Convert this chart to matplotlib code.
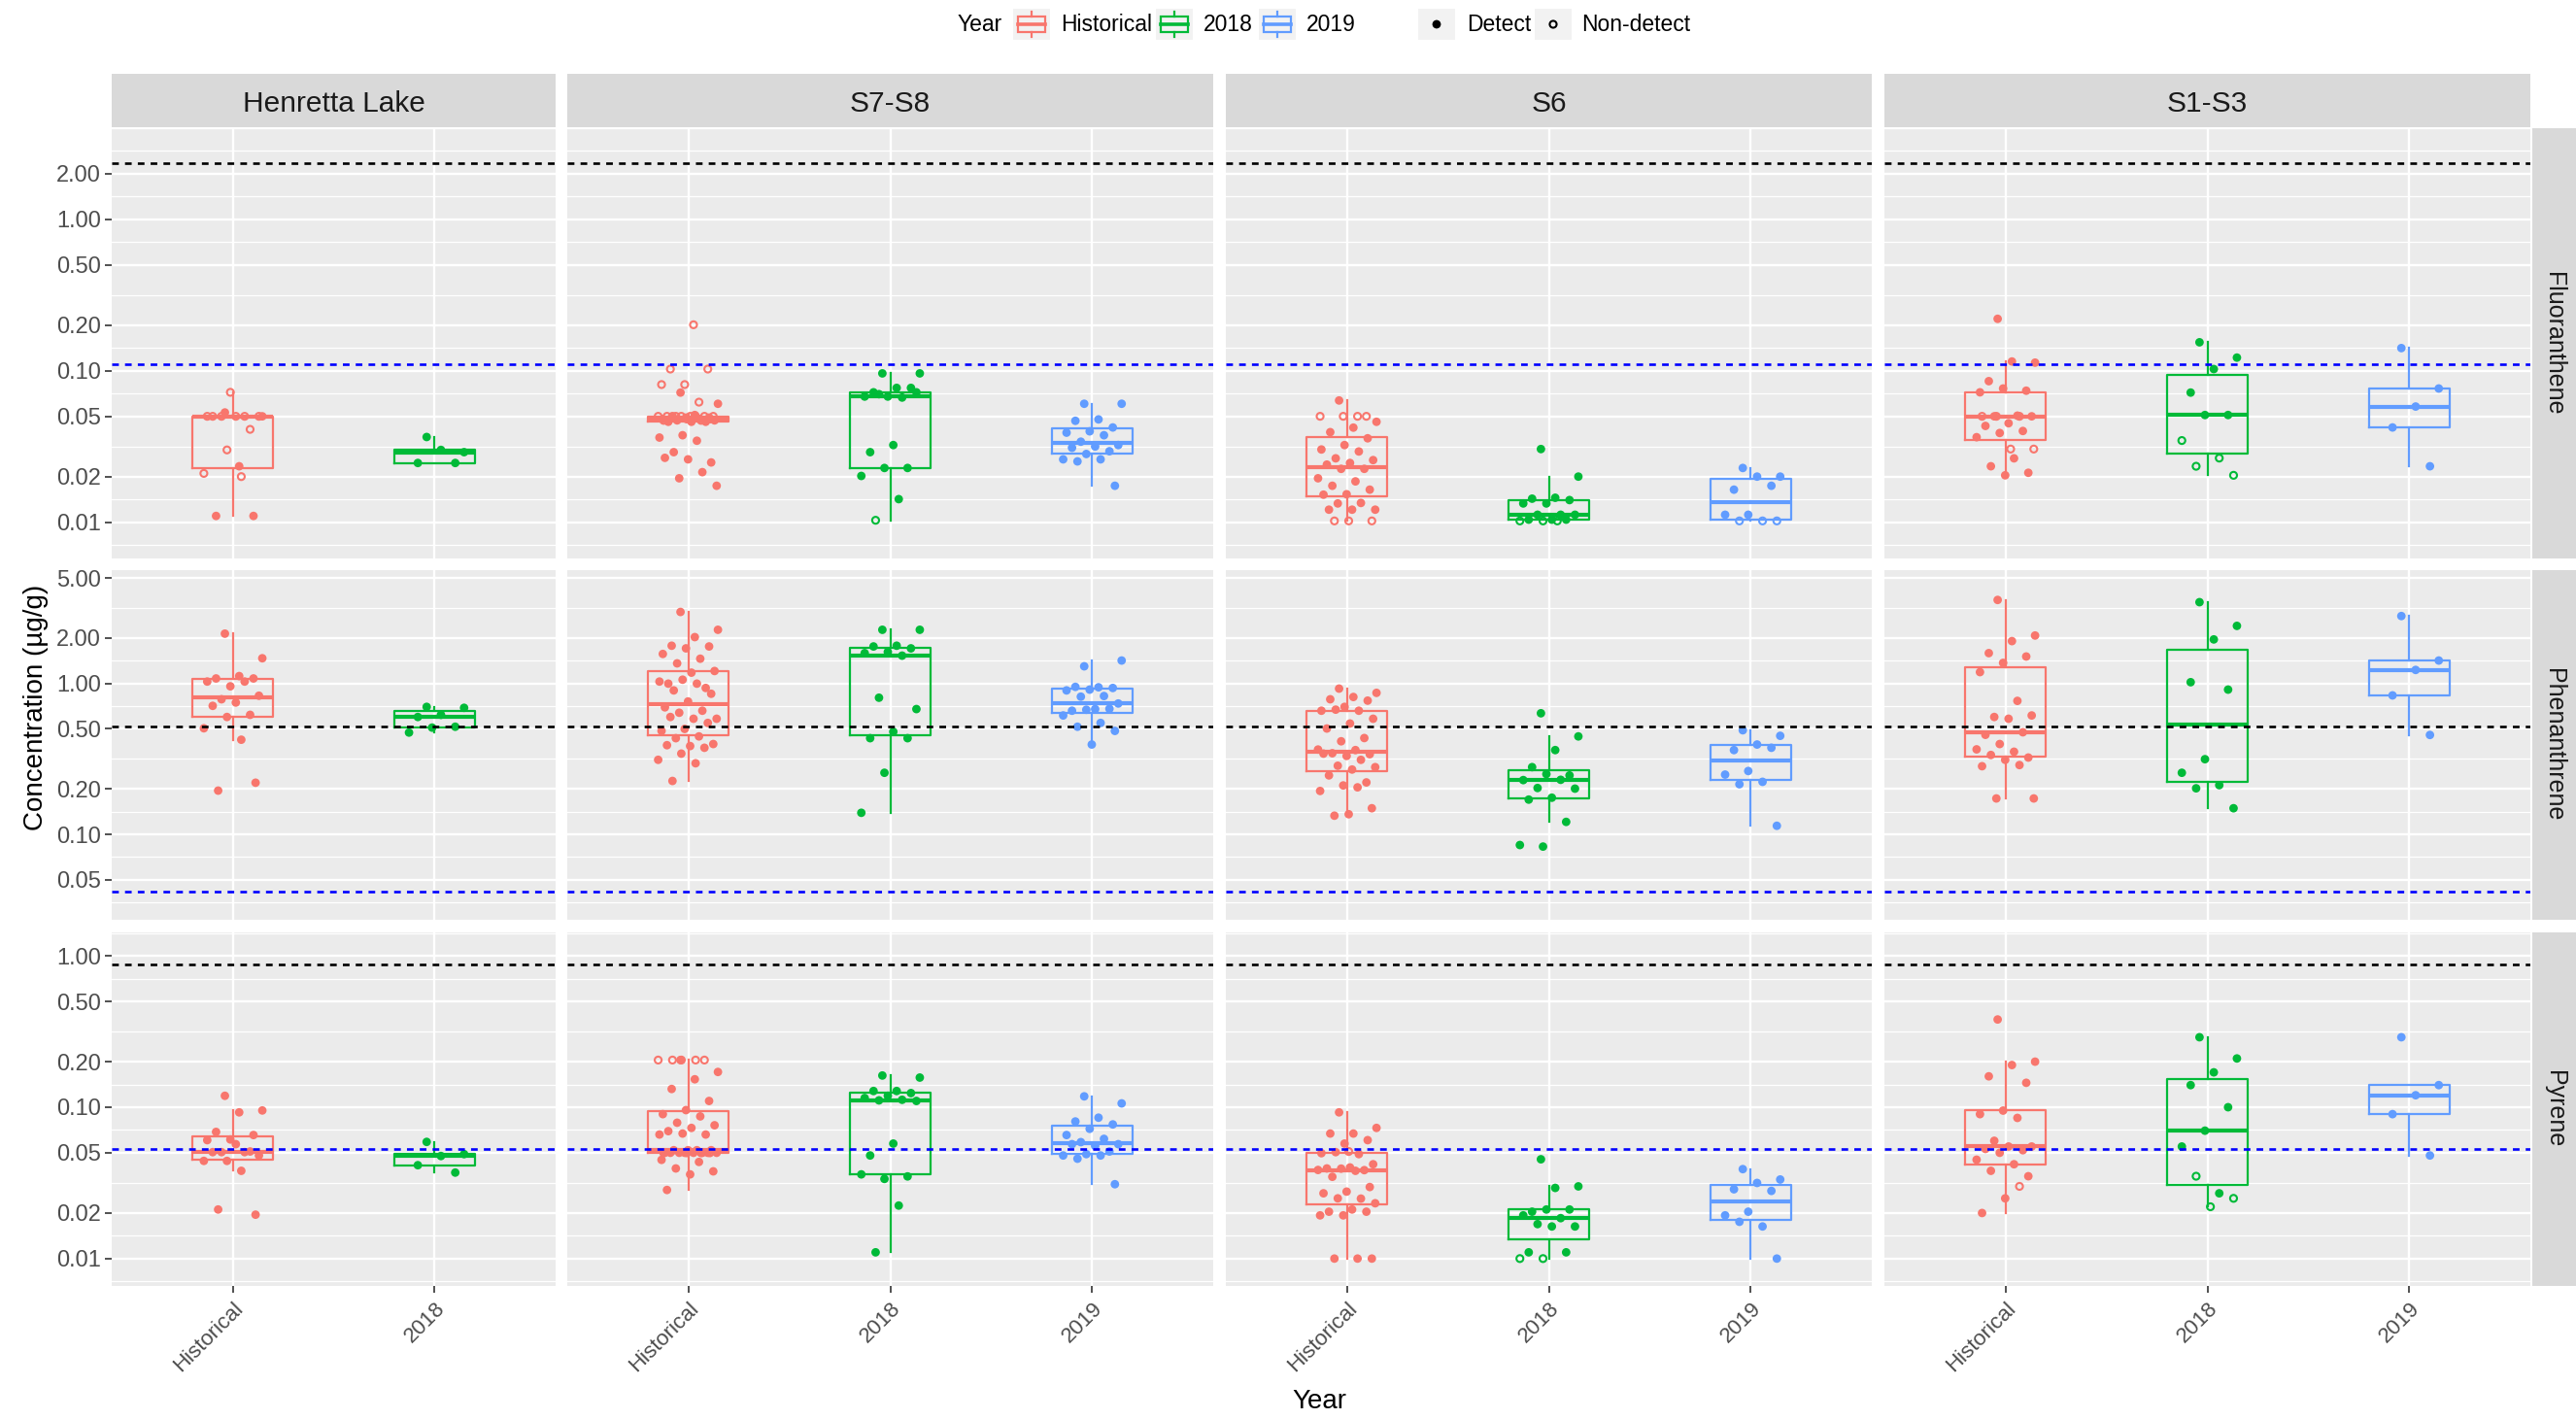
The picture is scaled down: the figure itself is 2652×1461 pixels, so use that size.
import numpy as np
import matplotlib
matplotlib.use("Agg")
import matplotlib.pyplot as plt
from matplotlib.cbook import boxplot_stats
from matplotlib.patches import Rectangle

plt.rcParams['font.family'] = ['Liberation Sans', 'DejaVu Sans']

# concentrations in ug/g, detected values and non-detects (*_nd) kept apart
# ---------------- Fluoranthene ----------------
fl_hl_hist = [0.053, 0.05, 0.0234, 0.011, 0.011]
fl_hl_hist_nd = [0.072, 0.05, 0.05, 0.05, 0.05, 0.05, 0.05, 0.041, 0.030, 0.021, 0.020]
fl_hl_18 = [0.0365, 0.029, 0.030, 0.0246, 0.0246]
fl_hl_18_nd = []

fl_s78_hist = [0.0717, 0.0605, 0.051, 0.049, 0.049, 0.049, 0.048, 0.048, 0.047, 0.047,
               0.046, 0.046, 0.046, 0.0375, 0.0362, 0.0345, 0.029, 0.0248, 0.026, 0.0266,
               0.0214, 0.0195, 0.0174]
fl_s78_hist_nd = [0.201, 0.1025, 0.1025, 0.081, 0.081, 0.062, 0.05, 0.05, 0.05, 0.05, 0.05,
                  0.05, 0.05, 0.05, 0.05, 0.048, 0.048, 0.047, 0.047]
fl_s78_18 = [0.096, 0.096, 0.077, 0.072, 0.077, 0.0675, 0.0675, 0.0665, 0.07, 0.072,
             0.0323, 0.029, 0.0228, 0.0228, 0.0202, 0.0142]
fl_s78_18_nd = [0.0103]
fl_s78_19 = [0.0605, 0.0605, 0.0477, 0.0467, 0.0422, 0.0398, 0.039, 0.0375, 0.034, 0.0323,
             0.0316, 0.031, 0.0294, 0.0282, 0.026, 0.026, 0.0252, 0.0174]
fl_s78_19_nd = []

fl_s6_hist = [0.0636, 0.046, 0.0421, 0.0393, 0.0358, 0.0323, 0.0302, 0.0293, 0.0264, 0.0257,
              0.0246, 0.024, 0.0225, 0.0225, 0.0195, 0.0186, 0.0174, 0.0164, 0.0153, 0.0152,
              0.0134, 0.0133, 0.0121, 0.0121, 0.0121]
fl_s6_hist_nd = [0.05, 0.05, 0.05, 0.05, 0.0102, 0.0102, 0.0102]
fl_s6_18 = [0.0304, 0.02, 0.0145, 0.0143, 0.014, 0.0133, 0.0133, 0.0112, 0.0112, 0.0112,
            0.0104, 0.0104, 0.0104]
fl_s6_18_nd = [0.0102, 0.0102, 0.0102]
fl_s6_19 = [0.0228, 0.02, 0.02, 0.0164, 0.0174, 0.0112, 0.0112]
fl_s6_19_nd = [0.0102, 0.0102, 0.0102]

fl_s13_hist = [0.22, 0.113, 0.115, 0.0853, 0.0738, 0.0763, 0.072, 0.0505, 0.05, 0.05, 0.045,
               0.0432, 0.04, 0.0388, 0.0364, 0.0264, 0.0234, 0.0212, 0.0204]
fl_s13_hist_nd = [0.05, 0.05, 0.05, 0.0304, 0.0304]
fl_s13_18 = [0.154, 0.122, 0.1025, 0.0717, 0.051, 0.051]
fl_s13_18_nd = [0.0346, 0.0265, 0.0234, 0.0204]
fl_s13_19 = [0.141, 0.0763, 0.058, 0.0422, 0.0234]
fl_s13_19_nd = []

# ---------------- Phenanthrene ----------------
ph_hl_hist = [2.14, 1.47, 1.12, 1.08, 1.08, 0.958, 1.03, 1.03, 0.786, 0.83, 0.748, 0.711,
              0.62, 0.6, 0.505, 0.424, 0.195, 0.22]
ph_hl_hist_nd = []
ph_hl_18 = [0.70, 0.69, 0.62, 0.6, 0.517, 0.51, 0.473]
ph_hl_18_nd = []

ph_s78_hist = [2.98, 2.27, 2.03, 1.78, 1.76, 1.71, 1.57, 1.46, 1.36, 1.21, 1.18, 0.998,
               0.934, 1.06, 1.03, 0.998, 0.9, 0.855, 0.76, 0.695, 0.66, 0.64, 0.584, 0.584,
               0.6, 0.548, 0.5, 0.485, 0.446, 0.434, 0.397, 0.385, 0.39, 0.375, 0.343,
               0.312, 0.296, 0.226]
ph_s78_hist_nd = []
ph_s78_18 = [2.27, 2.27, 1.78, 1.76, 1.71, 1.62, 1.59, 1.53, 0.805, 0.677, 0.479, 0.434,
             0.434, 0.256, 0.139]
ph_s78_18_nd = []
ph_s78_19 = [1.3, 1.42, 0.944, 0.95, 0.934, 0.911, 0.9, 0.826, 0.818, 0.737, 0.677, 0.66,
             0.68, 0.67, 0.614, 0.548, 0.517, 0.485, 0.394]
ph_s78_19_nd = []

ph_s6_hist = [0.925, 0.867, 0.814, 0.786, 0.77, 0.7, 0.66, 0.66, 0.671, 0.584, 0.543, 0.503,
              0.435, 0.414, 0.365, 0.362, 0.345, 0.34, 0.331, 0.343, 0.312, 0.285, 0.279,
              0.269, 0.246, 0.221, 0.211, 0.194, 0.205, 0.133, 0.149, 0.136]
ph_s6_hist_nd = []
ph_s6_18 = [0.635, 0.446, 0.362, 0.279, 0.246, 0.251, 0.229, 0.23, 0.203, 0.201, 0.175,
            0.17, 0.121, 0.083, 0.085]
ph_s6_18_nd = []
ph_s6_19 = [0.49, 0.45, 0.394, 0.362, 0.375, 0.263, 0.249, 0.223, 0.215, 0.114]
ph_s6_19_nd = []

ph_s13_hist = [3.58, 2.08, 1.91, 1.59, 1.51, 1.37, 1.19, 0.767, 0.6, 0.614, 0.584, 0.457,
               0.475, 0.397, 0.366, 0.353, 0.336, 0.323, 0.312, 0.283, 0.288, 0.173, 0.173]
ph_s13_hist_nd = []
ph_s13_18 = [3.46, 2.41, 1.96, 1.02, 0.911, 0.315, 0.256, 0.212, 0.202, 0.149]
ph_s13_18_nd = []
ph_s13_19 = [2.80, 1.42, 1.23, 0.834, 0.456]
ph_s13_19_nd = []

# ---------------- Pyrene ----------------
py_hl_hist = [0.119, 0.0952, 0.0925, 0.0687, 0.0655, 0.0612, 0.0606, 0.0505, 0.0505, 0.048,
              0.057, 0.0505, 0.051, 0.0442, 0.0442, 0.038, 0.0211, 0.0195]
py_hl_hist_nd = []
py_hl_18 = [0.059, 0.049, 0.0476, 0.0414, 0.037]
py_hl_18_nd = []

py_s78_hist = [0.205, 0.171, 0.153, 0.132, 0.110, 0.0957, 0.090, 0.087, 0.079, 0.076, 0.073,
               0.0695, 0.066, 0.067, 0.066, 0.052, 0.052, 0.052, 0.052, 0.05, 0.05, 0.05,
               0.05, 0.05, 0.05, 0.05, 0.05, 0.0449, 0.0435, 0.0394, 0.0377, 0.036, 0.0284]
py_s78_hist_nd = [0.205, 0.205, 0.205, 0.205, 0.205, 0.05, 0.05, 0.05, 0.05]
py_s78_18 = [0.162, 0.157, 0.128, 0.128, 0.124, 0.119, 0.115, 0.112, 0.111, 0.110, 0.0575,
             0.048, 0.0349, 0.0336, 0.036, 0.0224, 0.011]
py_s78_18_nd = []
py_s78_19 = [0.118, 0.106, 0.0853, 0.0805, 0.077, 0.072, 0.0655, 0.0618, 0.0588, 0.057,
             0.0555, 0.057, 0.051, 0.049, 0.048, 0.048, 0.0457, 0.031]
py_s78_19_nd = []

py_s6_hist = [0.0925, 0.073, 0.067, 0.067, 0.0606, 0.0575, 0.0497, 0.049, 0.0505, 0.042,
              0.04, 0.0394, 0.0384, 0.0393, 0.0385, 0.038, 0.0347, 0.0297, 0.0277, 0.027,
              0.0249, 0.025, 0.0232, 0.0211, 0.0204, 0.0204, 0.0193, 0.0193, 0.01, 0.01, 0.01]
py_s6_hist_nd = [0.051]
py_s6_18 = [0.0453, 0.03, 0.0293, 0.0204, 0.0211, 0.0211, 0.0193, 0.0185, 0.0169, 0.0163,
            0.0163, 0.011, 0.011]
py_s6_18_nd = [0.01, 0.01]
py_s6_19 = [0.039, 0.0333, 0.0316, 0.0287, 0.028, 0.0204, 0.0193, 0.0163, 0.0175, 0.01]
py_s6_19_nd = []

py_s13_hist = [0.38, 0.20, 0.19, 0.16, 0.145, 0.095, 0.09, 0.085, 0.06, 0.055, 0.055, 0.053,
               0.052, 0.05, 0.045, 0.042, 0.038, 0.035, 0.025, 0.02]
py_s13_hist_nd = [0.03]
py_s13_18 = [0.29, 0.21, 0.17, 0.14, 0.10, 0.07, 0.055, 0.027]
py_s13_18_nd = [0.035, 0.025, 0.022]
py_s13_19 = [0.29, 0.14, 0.12, 0.09, 0.048]
py_s13_19_nd = []

compounds = ['Fluoranthene', 'Phenanthrene', 'Pyrene']
sites = ['Henretta Lake', 'S7-S8', 'S6', 'S1-S3']
site_years = [['Historical', '2018'], ['Historical', '2018', '2019'],
              ['Historical', '2018', '2019'], ['Historical', '2018', '2019']]
# sediment guidelines: PEL (black) and ISQG (blue)
pel = [2.355, 0.515, 0.875]
isqg = [0.111, 0.0419, 0.053]
y_ticks = [[0.01, 0.02, 0.05, 0.1, 0.2, 0.5, 1, 2],
           [0.05, 0.1, 0.2, 0.5, 1, 2, 5],
           [0.01, 0.02, 0.05, 0.1, 0.2, 0.5, 1]]

samples = {
    ('Fluoranthene', 'Henretta Lake'): [(fl_hl_hist, fl_hl_hist_nd), (fl_hl_18, fl_hl_18_nd)],
    ('Fluoranthene', 'S7-S8'): [(fl_s78_hist, fl_s78_hist_nd), (fl_s78_18, fl_s78_18_nd), (fl_s78_19, fl_s78_19_nd)],
    ('Fluoranthene', 'S6'): [(fl_s6_hist, fl_s6_hist_nd), (fl_s6_18, fl_s6_18_nd), (fl_s6_19, fl_s6_19_nd)],
    ('Fluoranthene', 'S1-S3'): [(fl_s13_hist, fl_s13_hist_nd), (fl_s13_18, fl_s13_18_nd), (fl_s13_19, fl_s13_19_nd)],
    ('Phenanthrene', 'Henretta Lake'): [(ph_hl_hist, ph_hl_hist_nd), (ph_hl_18, ph_hl_18_nd)],
    ('Phenanthrene', 'S7-S8'): [(ph_s78_hist, ph_s78_hist_nd), (ph_s78_18, ph_s78_18_nd), (ph_s78_19, ph_s78_19_nd)],
    ('Phenanthrene', 'S6'): [(ph_s6_hist, ph_s6_hist_nd), (ph_s6_18, ph_s6_18_nd), (ph_s6_19, ph_s6_19_nd)],
    ('Phenanthrene', 'S1-S3'): [(ph_s13_hist, ph_s13_hist_nd), (ph_s13_18, ph_s13_18_nd), (ph_s13_19, ph_s13_19_nd)],
    ('Pyrene', 'Henretta Lake'): [(py_hl_hist, py_hl_hist_nd), (py_hl_18, py_hl_18_nd)],
    ('Pyrene', 'S7-S8'): [(py_s78_hist, py_s78_hist_nd), (py_s78_18, py_s78_18_nd), (py_s78_19, py_s78_19_nd)],
    ('Pyrene', 'S6'): [(py_s6_hist, py_s6_hist_nd), (py_s6_18, py_s6_18_nd), (py_s6_19, py_s6_19_nd)],
    ('Pyrene', 'S1-S3'): [(py_s13_hist, py_s13_hist_nd), (py_s13_18, py_s13_18_nd), (py_s13_19, py_s13_19_nd)],
}

year_colors = {'Historical': '#F8766D', '2018': '#00BA38', '2019': '#619CFF'}

# ---- layout (pixels) ----
W, H = 2652, 1461
col_px = [(115, 572), (584, 1249), (1262, 1927), (1940, 2605)]
row_px = [(132, 575), (587, 947), (960, 1324)]
ylim_log = [(-2.2393, 0.6004), (-1.5661, 0.7515), (-2.1808, 0.1551)]
strip_top = (76, 131)
strip_right = (2607, 2652)
PANEL_BG = '#EBEBEB'
STRIP_BG = '#D9D9D9'


def px_axes(x0, x1, y0, y1, **kw):
    return fig.add_axes([x0 / W, 1 - y1 / H, (x1 - x0) / W, (y1 - y0) / H], **kw)


def minor_breaks(ticks):
    lt = np.log10(ticks)
    step = lt[1] - lt[0]
    ext = np.concatenate([[lt[0] - step], lt, [lt[-1] + step]])
    mids = (ext[:-1] + ext[1:]) / 2
    return 10 ** np.concatenate([mids, [ext[0], ext[-1]]])


def jitter(n, width=0.15):
    k = np.arange(n)
    return ((k * 0.618034 + 0.37) % 1 - 0.5) * 2 * width


fig = plt.figure(figsize=(W / 100, H / 100), dpi=100)

for r, comp in enumerate(compounds):
    lo, hi = 10 ** ylim_log[r][0], 10 ** ylim_log[r][1]
    for c, site in enumerate(sites):
        years = site_years[c]
        ax = px_axes(col_px[c][0], col_px[c][1], row_px[r][0], row_px[r][1])
        ax.set_facecolor(PANEL_BG)
        ax.set_yscale('log')
        ax.set_ylim(lo, hi)
        ax.set_xlim(0.4, len(years) + 0.6)
        for s in ax.spines.values():
            s.set_visible(False)

        for v in minor_breaks(y_ticks[r]):
            ax.axhline(v, color='white', lw=0.9, zorder=0.5)
        for v in y_ticks[r]:
            ax.axhline(v, color='white', lw=1.7, zorder=0.6)
        for i in range(len(years)):
            ax.axvline(i + 1, color='white', lw=1.7, zorder=0.6)

        for i, yr in enumerate(years):
            det, nd = samples[(comp, site)][i]
            col = year_colors[yr]
            allv = np.array(det + nd, dtype=float)
            st = boxplot_stats(np.log10(allv), whis=1.5)[0]
            stats = dict(med=10 ** st['med'], q1=10 ** st['q1'], q3=10 ** st['q3'],
                         whislo=10 ** st['whislo'], whishi=10 ** st['whishi'], fliers=[])
            ax.bxp([stats], positions=[i + 1], widths=0.4, showfliers=False,
                   showcaps=False, manage_ticks=False,
                   boxprops=dict(color=col, lw=1.6),
                   whiskerprops=dict(color=col, lw=1.6),
                   medianprops=dict(color=col, lw=3.0, solid_capstyle='butt'))

            xs = i + 1 + jitter(len(allv))
            nd_mask = np.arange(len(allv)) >= len(det)
            ax.scatter(xs[~nd_mask], allv[~nd_mask], s=40, color=col,
                       edgecolors='none', zorder=3)
            ax.scatter(xs[nd_mask], allv[nd_mask], s=26, facecolors='none',
                       edgecolors=col, linewidths=1.5, zorder=3)

        ax.axhline(pel[r], color='black', lw=1.9, ls=(0, (2.6, 2.4)), zorder=4)
        ax.axhline(isqg[r], color='#0000FF', lw=1.9, ls=(0, (2.6, 2.4)), zorder=4)

        ax.yaxis.set_minor_locator(matplotlib.ticker.NullLocator())
        ax.set_yticks(y_ticks[r])
        ax.set_xticks(range(1, len(years) + 1))
        if c == 0:
            ax.set_yticklabels(['%.2f' % t for t in y_ticks[r]])
            ax.tick_params(axis='y', length=5, width=1.2, color='#333333',
                           labelsize=17, labelcolor='#4D4D4D', pad=3)
        else:
            ax.tick_params(axis='y', left=False, labelleft=False)
        if r == len(compounds) - 1:
            ax.set_xticklabels(years, rotation=45, ha='right', va='top',
                               rotation_mode='anchor')
            ax.tick_params(axis='x', length=5, width=1.2, color='#333333',
                           labelsize=16, labelcolor='#4D4D4D', pad=4)
        else:
            ax.tick_params(axis='x', bottom=False, labelbottom=False)

        if r == 0:
            sax = px_axes(col_px[c][0], col_px[c][1], strip_top[0], strip_top[1])
            sax.set_facecolor(STRIP_BG)
            sax.set_xticks([])
            sax.set_yticks([])
            for s in sax.spines.values():
                s.set_visible(False)
            sax.text(0.5, 0.44, site, ha='center', va='center', fontsize=21.5,
                     color='#1A1A1A', transform=sax.transAxes)

    rax = px_axes(strip_right[0], strip_right[1], row_px[r][0], row_px[r][1])
    rax.set_facecolor(STRIP_BG)
    rax.set_xticks([])
    rax.set_yticks([])
    for s in rax.spines.values():
        s.set_visible(False)
    rax.text(0.5, 0.5, comp, ha='center', va='center', rotation=-90, fontsize=18,
             color='#1A1A1A', transform=rax.transAxes)

# axis titles
fig.text(1358 / W, 1 - 1443 / H, 'Year', ha='center', va='center', fontsize=20)
fig.text(37 / W, 1 - 728 / H, 'Concentration (µg/g)', ha='center', va='center',
         rotation=90, fontsize=20)

# legend strip across the top
lax = fig.add_axes([0, 0, 1, 1], facecolor='none')
lax.set_xlim(0, W)
lax.set_ylim(H, 0)
lax.axis('off')
ky0, ky1 = 9, 41
kyc = (ky0 + ky1) / 2
lax.text(986, kyc, 'Year', ha='left', va='center', fontsize=16.5)
box_keys = [(1043, 'Historical', 1092), (1190, '2018', 1239), (1296, '2019', 1345)]
for kx, lab, tx in box_keys:
    kw = 38
    col = year_colors[lab]
    lax.add_patch(Rectangle((kx, ky0), kw, ky1 - ky0, facecolor='#F2F2F2', edgecolor='none'))
    lax.add_patch(Rectangle((kx + 0.12 * kw, ky0 + 0.25 * (ky1 - ky0)), 0.76 * kw,
                            0.5 * (ky1 - ky0), facecolor='none', edgecolor=col, lw=1.6))
    lax.plot([kx + 0.12 * kw, kx + 0.88 * kw], [kyc, kyc], color=col, lw=2.6)
    lax.plot([kx + kw / 2] * 2, [ky0 + 0.08 * (ky1 - ky0), ky0 + 0.25 * (ky1 - ky0)], color=col, lw=1.6)
    lax.plot([kx + kw / 2] * 2, [ky0 + 0.75 * (ky1 - ky0), ky0 + 0.92 * (ky1 - ky0)], color=col, lw=1.6)
    lax.text(tx, kyc, lab, ha='left', va='center', fontsize=16.5)

pt_keys = [(1460, 'Detect', 1510, True), (1580, 'Non-detect', 1628, False)]
for kx, lab, tx, filled in pt_keys:
    kw = 38
    lax.add_patch(Rectangle((kx, ky0), kw, ky1 - ky0, facecolor='#F2F2F2', edgecolor='none'))
    if filled:
        lax.scatter([kx + kw / 2], [kyc], s=40, color='black', edgecolors='none')
    else:
        lax.scatter([kx + kw / 2], [kyc], s=26, facecolors='none', edgecolors='black',
                    linewidths=1.5)
    lax.text(tx, kyc, lab, ha='left', va='center', fontsize=16.5)

fig.savefig('out.png', dpi=100, facecolor='white')
